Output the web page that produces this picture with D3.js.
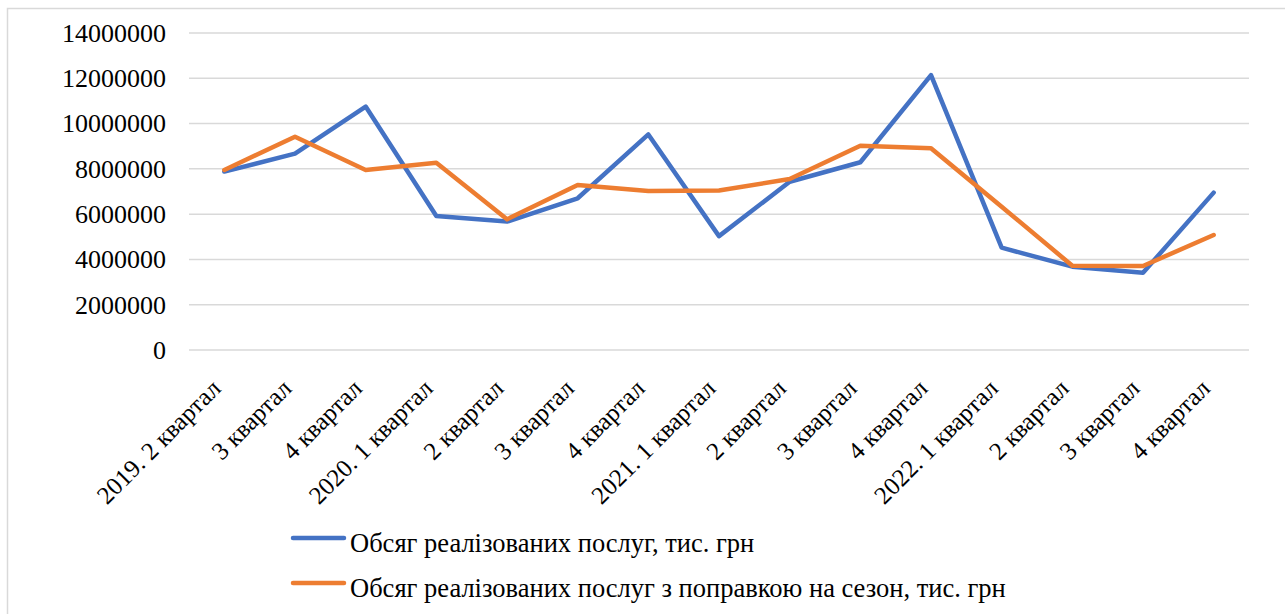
<!DOCTYPE html>
<html>
<head>
<meta charset="utf-8">
<script src="https://cdn.jsdelivr.net/npm/d3@7"></script>
<style>
  html, body { margin: 0; padding: 0; background: #fff; }
  svg { display: block; }
</style>
</head>
<body>
<svg id="chart" width="1285" height="614"></svg>
<script>
// Quarter labels along the x axis
const categories = [
  "2019. 2 квартал", "3 квартал", "4 квартал",
  "2020. 1 квартал", "2 квартал", "3 квартал", "4 квартал",
  "2021. 1 квартал", "2 квартал", "3 квартал", "4 квартал",
  "2022. 1 квартал", "2 квартал", "3 квартал", "4 квартал"
];

// Volume of services sold, thousand UAH
const salesVolume = [
  7880000, 8670000, 10750000, 5920000, 5670000, 6700000, 9520000,
  5030000, 7430000, 8290000, 12140000, 4520000, 3680000, 3410000, 6950000
];

// Seasonally adjusted volume, thousand UAH
const salesAdjusted = [
  7950000, 9420000, 7950000, 8270000, 5770000, 7290000, 7020000,
  7040000, 7550000, 9020000, 8910000, 6330000, 3720000, 3710000, 5080000
];

const yTicks = [0, 2000000, 4000000, 6000000, 8000000, 10000000, 12000000, 14000000];

const seriesNames = [
  "Обсяг реалізованих послуг, тис. грн",
  "Обсяг реалізованих послуг з поправкою на сезон, тис. грн"
];
const seriesColors = ["#4472C4", "#ED7D31"];

const FONT = "'Liberation Serif', 'Times New Roman', serif";
const svg = d3.select("#chart");

// Outer chart frame
svg.append("rect")
  .attr("x", 7.5).attr("y", 8.5)
  .attr("width", 1300).attr("height", 650)
  .attr("fill", "none").attr("stroke", "#d9d9d9").attr("stroke-width", 1.5);

const plot = { left: 189, right: 1249, top: 33, bottom: 350 };

// Band scale over quarter indices (labels repeat across years)
const idx = d3.range(categories.length);
const x = d3.scaleBand()
  .domain(idx)
  .range([plot.left, plot.right]);

const y = d3.scaleLinear()
  .domain([0, 14000000])
  .range([plot.bottom, plot.top]);

// Horizontal gridlines
svg.append("g")
  .selectAll("line")
  .data(yTicks)
  .join("line")
  .attr("x1", plot.left).attr("x2", plot.right)
  .attr("y1", d => y(d)).attr("y2", d => y(d))
  .attr("stroke", "#d9d9d9").attr("stroke-width", 1.5);

// Y axis labels
const yAxis = d3.axisLeft(y).tickValues(yTicks).tickSize(0).tickPadding(23)
  .tickFormat(d3.format("d"));
svg.append("g")
  .attr("transform", `translate(${plot.left},0)`)
  .call(yAxis)
  .call(g => g.select(".domain").remove())
  .call(g => g.selectAll("text")
    .style("font-family", FONT)
    .style("font-size", "26px")
    .attr("fill", "#000"));

// X axis labels, rotated 45 degrees
const xAxis = d3.axisBottom(x).tickSize(0).tickPadding(0)
  .tickFormat(i => categories[i]);
svg.append("g")
  .attr("transform", `translate(0,${plot.bottom})`)
  .call(xAxis)
  .call(g => g.select(".domain").remove())
  .call(g => g.selectAll("text")
    .style("font-family", FONT)
    .style("font-size", "25px")
    .attr("fill", "#000")
    .attr("text-anchor", "end")
    .attr("dy", null)
    .attr("y", 0)
    .attr("transform", "translate(-2,40) rotate(-45)"));

// Series lines
const line = d3.line()
  .x((d, i) => x(i) + x.bandwidth() / 2)
  .y(d => y(d));

[salesVolume, salesAdjusted].forEach((values, k) => {
  svg.append("path")
    .datum(values)
    .attr("d", line)
    .attr("fill", "none")
    .attr("stroke", seriesColors[k])
    .attr("stroke-width", 4.5)
    .attr("stroke-linejoin", "round")
    .attr("stroke-linecap", "round");
});

// Legend
const legend = svg.append("g");
seriesNames.forEach((name, k) => {
  const cy = 538 + k * 45;
  legend.append("line")
    .attr("x1", 293).attr("x2", 344)
    .attr("y1", cy).attr("y2", cy)
    .attr("stroke", seriesColors[k])
    .attr("stroke-width", 4.5)
    .attr("stroke-linecap", "round");
  legend.append("text")
    .attr("x", 350).attr("y", cy + 14)
    .style("font-family", FONT)
    .style("font-size", "26.5px")
    .attr("fill", "#000")
    .text(name);
});
</script>
</body>
</html>
